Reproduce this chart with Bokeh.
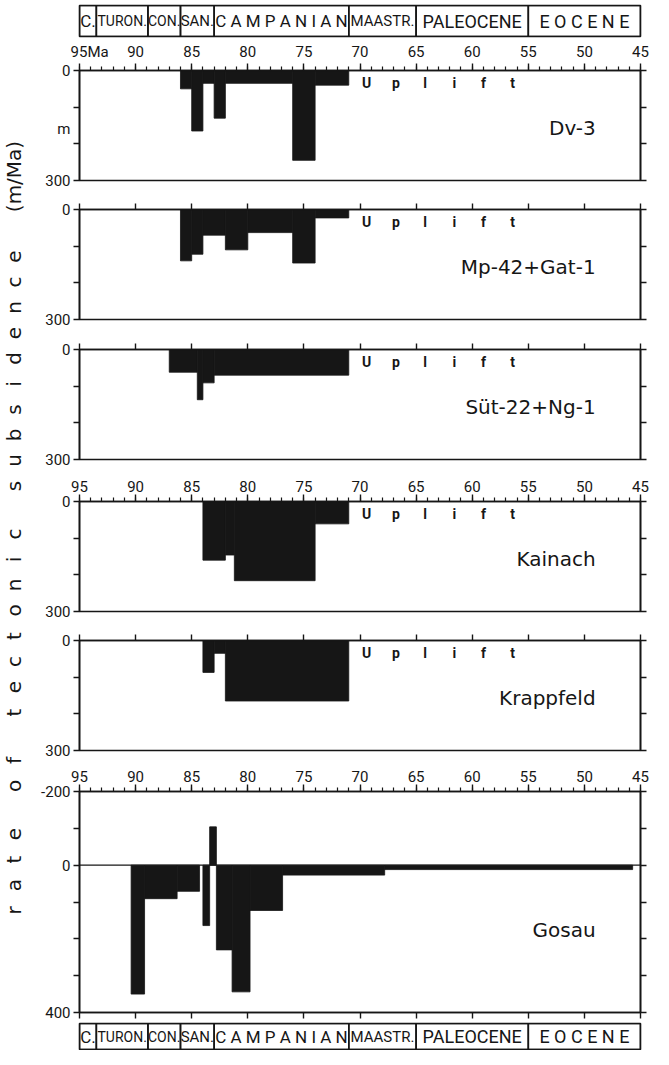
import math
from bokeh.plotting import figure
from bokeh.layouts import column, row
from bokeh.models import Range1d, LinearAxis, FixedTicker, Span
from bokeh.embed import file_html
from bokeh.resources import INLINE
from bokeh.core.properties import value

# ---------------- data ----------------
stage_names = ["C.", "TURON.", "CON.", "SAN.", "C A M P A N I A N", "MAASTR.", "PALEOCENE", "E O C E N E"]
stage_start = [95.0, 93.5, 88.9, 86.0, 83.0, 71.0, 65.0, 55.0]
stage_end = [93.5, 88.9, 86.0, 83.0, 71.0, 65.0, 55.0, 45.0]

age_ticks = [95, 90, 85, 80, 75, 70, 65, 60, 55, 50, 45]
age_minor = list(range(95, 44, -1))

rate_ticks = [0, 100, 200, 300]
rate_labels = [0, 300]
gosau_ticks = [-200, -100, 0, 100, 200, 300, 400]
gosau_labels = [-200, 0, 400]

# subsidence-rate bars: age interval (older -> younger) and rate (m/Ma)
dv3_from = [86.0, 85.0, 84.0, 83.0, 82.0, 76.0, 74.0]
dv3_to = [85.0, 84.0, 83.0, 82.0, 76.0, 74.0, 71.0]
dv3_rate = [50, 165, 35, 130, 35, 245, 40]

mp42_from = [86.0, 85.0, 84.0, 82.0, 80.0, 76.0, 74.0]
mp42_to = [85.0, 84.0, 82.0, 80.0, 76.0, 74.0, 71.0]
mp42_rate = [140, 122, 70, 110, 63, 146, 23]

sut22_from = [87.0, 84.5, 84.0, 83.0]
sut22_to = [84.5, 84.0, 83.0, 71.0]
sut22_rate = [62, 137, 91, 70]

kainach_from = [84.0, 82.0, 81.2, 74.0]
kainach_to = [82.0, 81.2, 74.0, 71.0]
kainach_rate = [160, 146, 216, 61]

krappfeld_from = [84.0, 83.0, 82.0]
krappfeld_to = [83.0, 82.0, 71.0]
krappfeld_rate = [87, 35, 165]

gosau_from = [90.4, 89.2, 86.3, 84.0, 83.4, 82.8, 81.4, 79.8, 76.9, 67.8]
gosau_to = [89.2, 86.3, 84.3, 83.4, 82.8, 81.4, 79.8, 76.9, 67.8, 45.7]
gosau_rate = [350, 91, 71, 164, -104, 230, 344, 123, 27, 12]

uplift_letters = ["U", "p", "l", "i", "f", "t"]
uplift_age = [69.4, 66.8, 64.2, 61.6, 59.0, 56.4]

title_words = ["rate", "of", "tectonic", "subsidence"]
title_unit = "(m/Ma)"

# ---------------- style ----------------
INK = "#161616"
SANS = "Roboto"
GEO = "DejaVu Sans"
FRAME_W = 561
TITLE_W = 30
LEFT_B = 49
RIGHT_B = 13
stage_font = ["17px", "14px", "14px", "15px", "17px", "15px", "18px", "18px"]


def base_fig(frame_h, top_b, bot_b, y_start, y_end):
    p = figure(frame_width=FRAME_W, frame_height=frame_h,
               x_range=Range1d(95, 45), y_range=Range1d(y_start, y_end),
               output_backend="svg", toolbar_location=None,
               min_border_left=LEFT_B, min_border_right=RIGHT_B,
               min_border_top=top_b, min_border_bottom=bot_b,
               x_axis_location=None, y_axis_location=None)
    p.grid.visible = False
    p.outline_line_color = INK
    p.outline_line_width = 1.6
    p.background_fill_color = "white"
    p.border_fill_color = "white"
    return p


def tick_axis(ticks, tick_out, minor=None, minor_out=0):
    """axis that draws the line and tick marks only"""
    ax = LinearAxis(ticker=FixedTicker(ticks=ticks, minor_ticks=minor or []))
    ax.axis_line_color = INK
    ax.axis_line_width = 1.6
    ax.major_tick_in = 0
    ax.major_tick_out = tick_out
    ax.major_tick_line_color = INK
    ax.major_tick_line_width = 1.4
    ax.minor_tick_in = 0
    ax.minor_tick_out = minor_out
    ax.minor_tick_line_color = INK if minor_out > 0 else None
    ax.minor_tick_line_width = 1.2
    ax.major_label_text_color = None
    return ax


def label_axis(ticks, overrides, standoff, size="15px"):
    """axis that draws tick labels only"""
    ax = LinearAxis(ticker=FixedTicker(ticks=ticks))
    ax.axis_line_color = None
    ax.major_tick_line_color = None
    ax.minor_tick_line_color = None
    ax.major_tick_in = 0
    ax.major_tick_out = 0
    ax.minor_tick_in = 0
    ax.minor_tick_out = 0
    ax.major_label_standoff = standoff
    ax.major_label_text_font = SANS
    ax.major_label_text_font_size = size
    ax.major_label_text_color = INK
    ax.major_label_overrides = overrides
    return ax


def panel(name, a_from, a_to, rate, frame_h, top_b, bot_b, top_labels,
          gosau=False, name_y=157, extra_left=None, top_label_ticks=None, top_overrides=None):
    if gosau:
        p = base_fig(frame_h, top_b, bot_b, 400, -200)
        ticks, labeled = gosau_ticks, gosau_labels
        p.add_layout(Span(location=0, dimension="width", line_color=INK, line_width=1.4))
    else:
        p = base_fig(frame_h, top_b, bot_b, 300, 0)
        ticks, labeled = rate_ticks, rate_labels
    # left / right rate axes
    p.add_layout(tick_axis(ticks, 6), "left")
    lab_ticks = list(labeled)
    ov = {t: str(t) for t in labeled}
    if extra_left:
        for t, s in extra_left.items():
            lab_ticks.append(t)
            ov[t] = s
    p.add_layout(label_axis(sorted(lab_ticks), ov, 3), "left")
    p.add_layout(tick_axis(ticks, 6), "right")
    # top age axis
    if top_labels:
        p.add_layout(tick_axis(age_ticks, 7, age_minor, 4), "above")
        lt = top_label_ticks or age_ticks
        p.add_layout(label_axis(lt, top_overrides or {t: str(t) for t in lt}, 3), "above")
    else:
        p.add_layout(tick_axis(age_ticks, 6), "above")
    p.quad(left=a_from, right=a_to, top=[0] * len(rate), bottom=rate,
           fill_color=INK, line_color=INK, line_width=0.8)
    p.text(x=[49.0], y=[name_y], text=[name], text_align="right", text_baseline="middle",
           text_font=value(GEO), text_font_size="20px", text_color=INK)
    if not gosau:
        p.text(x=uplift_age, y=[33] * len(uplift_age), text=uplift_letters,
               text_align="center", text_baseline="middle", text_font=value(SANS),
               text_font_size="14px", text_font_style="bold", text_color=INK)
    return p


def stage_fig(frame_h, top_b, bot_b):
    p = base_fig(frame_h, top_b, bot_b, 0, 1)
    p.quad(left=stage_start, right=stage_end, top=[1] * len(stage_start), bottom=[0] * len(stage_start),
           fill_color=None, line_color=INK, line_width=1.6)
    mids = [(a + b) / 2 for a, b in zip(stage_start, stage_end)]
    p.text(x=mids, y=[0.5] * len(mids), text=stage_names, text_align="center",
           text_baseline="middle", text_font=value(SANS), text_font_size=stage_font,
           text_color=INK)
    return p


top_band = stage_fig(31, 5, 3)

# first label "95Ma": centre shifted so that "95" sits on its tick
p1_label_ticks = [94.1] + age_ticks[1:]
p1_overrides = {94.1: "95Ma"}
p1_overrides.update({t: str(t) for t in age_ticks[1:]})
p1 = panel("Dv-3", dv3_from, dv3_to, dv3_rate, 110, 31, 15, True,
           extra_left={160: "m"}, top_label_ticks=p1_label_ticks, top_overrides=p1_overrides)
p2 = panel("Mp-42+Gat-1", mp42_from, mp42_to, mp42_rate, 110, 14, 15, False)
p3 = panel("Süt-22+Ng-1", sut22_from, sut22_to, sut22_rate, 110, 15, 10, False)
p4 = panel("Kainach", kainach_from, kainach_to, kainach_rate, 110, 32, 14, True)
p5 = panel("Krappfeld", krappfeld_from, krappfeld_to, krappfeld_rate, 110, 15, 11, False)
p6 = panel("Gosau", gosau_from, gosau_to, gosau_rate, 221, 30, 10, True, gosau=True, name_y=177)
p6.add_layout(tick_axis(age_ticks, 6), "below")

bottom_band = stage_fig(26, 1, 1)

heights = [39, 156, 139, 135, 156, 136, 261, 28]
TOTAL_H = sum(heights)

# vertical axis title, letters spaced as in the original
tf = figure(width=TITLE_W, height=TOTAL_H, x_range=Range1d(0, TITLE_W), y_range=Range1d(0, TOTAL_H),
            output_backend="svg", toolbar_location=None, min_border=0,
            x_axis_location=None, y_axis_location=None)
tf.grid.visible = False
tf.outline_line_color = None
tf.border_fill_color = "white"
tf.background_fill_color = "white"

PITCH = 25.5
WORD_GAP = 48
chars, cys = [], []
pos = TOTAL_H + 8 - 918   # page y of the first letter 'r'
for w in title_words:
    for ci, ch in enumerate(w):
        chars.append(ch)
        cys.append(pos)
        if ci < len(w) - 1:
            pos += PITCH
    pos += WORD_GAP
tf.text(x=[13] * len(chars), y=cys, text=chars, angle=math.pi / 2, text_align="center",
        text_baseline="alphabetic", text_font=value(GEO), text_font_size="20px", text_color=INK)
tf.text(x=[13], y=[TOTAL_H + 8 - 184], text=[title_unit], angle=math.pi / 2, text_align="center",
        text_baseline="alphabetic", text_font=value(GEO), text_font_size="20px", text_color=INK)

layout = row(tf, column(top_band, p1, p2, p3, p4, p5, p6, bottom_band))
open("out.html", "w").write(file_html(layout, INLINE))
